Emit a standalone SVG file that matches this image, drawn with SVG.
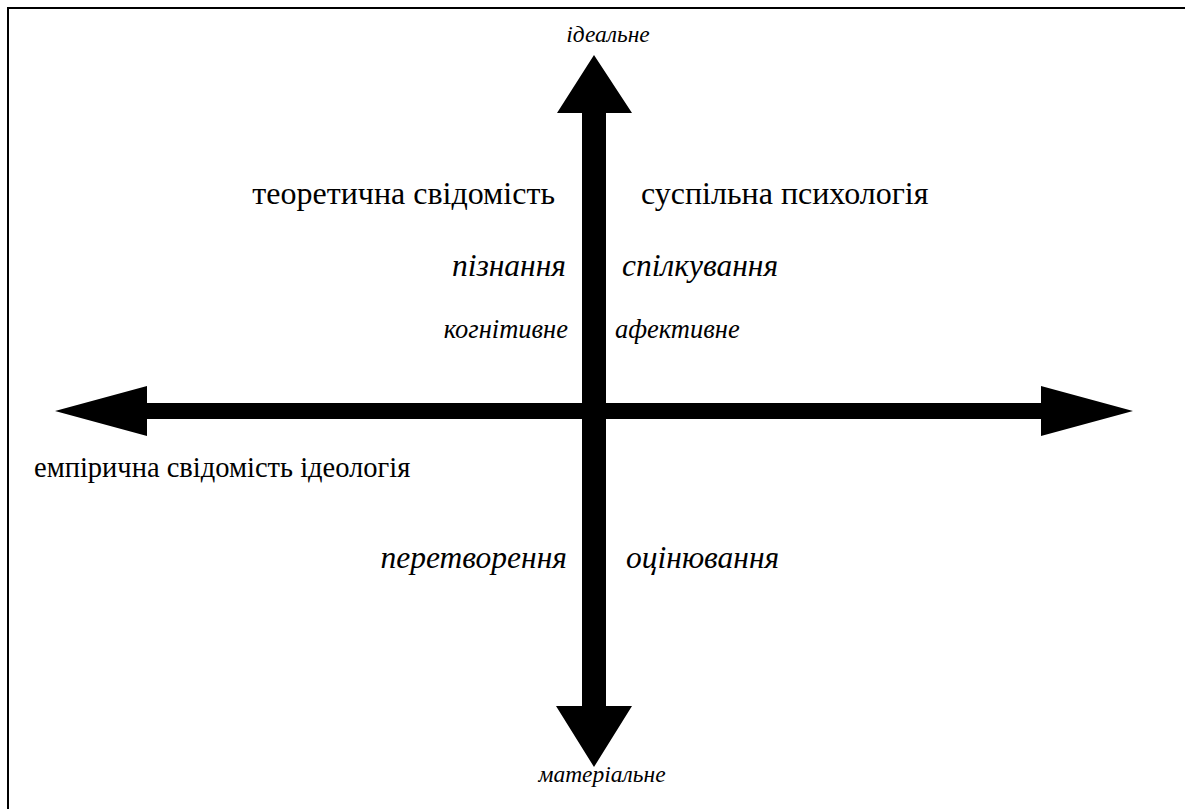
<svg xmlns="http://www.w3.org/2000/svg" width="1185" height="809" viewBox="0 0 1185 809">
<rect width="1185" height="809" fill="#fff"/>
<path d="M8,809 V8 H1185" fill="none" stroke="#000" stroke-width="2"/>
<g id="connectors" fill="#000">
<path id="vaxis" d="M582,113 H557 L594,55 L632,113 H606 V706 H632 L594,767 L556,706 H582 Z"/>
<path id="haxis" d="M147,403 V386 L55,411 L147,436 V419 H1041 V436 L1133,411 L1041,386 V403 Z"/>
</g>
<g id="n-ideal"><text font-family="Liberation Serif" font-style="italic" font-size="23.5" x="608" y="42" text-anchor="middle">ідеальне</text></g>
<g id="n-material"><text font-family="Liberation Serif" font-style="italic" font-size="23.5" x="602" y="782" text-anchor="middle">матеріальне</text></g>
<g id="n-theor"><text font-family="Liberation Serif" font-size="32" x="555" y="204" text-anchor="end">теоретична свідомість</text></g>
<g id="n-psych"><text font-family="Liberation Serif" font-size="32" x="641" y="204">суспільна психологія</text></g>
<g id="n-pizn"><text font-family="Liberation Serif" font-style="italic" font-size="31.5" x="566" y="276" text-anchor="end">пізнання</text></g>
<g id="n-spilk"><text font-family="Liberation Serif" font-style="italic" font-size="31.5" x="622" y="276">спілкування</text></g>
<g id="n-kogn"><text font-family="Liberation Serif" font-style="italic" font-size="26.5" x="568" y="338" text-anchor="end">когнітивне</text></g>
<g id="n-afekt"><text font-family="Liberation Serif" font-style="italic" font-size="26.5" x="615" y="338">афективне</text></g>
<g id="n-emp"><text font-family="Liberation Serif" font-size="28.5" x="34" y="477">емпірична свідомість ідеологія</text></g>
<g id="n-peret"><text font-family="Liberation Serif" font-style="italic" font-size="31.5" x="567" y="568" text-anchor="end">перетворення</text></g>
<g id="n-otsin"><text font-family="Liberation Serif" font-style="italic" font-size="31.5" x="626" y="568">оцінювання</text></g>
</svg>
